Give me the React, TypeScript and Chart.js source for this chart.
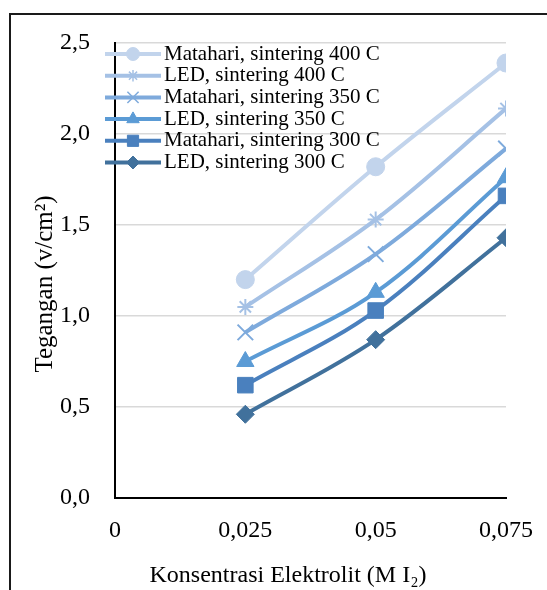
import React, { useEffect, useRef } from 'react';
import { Chart, registerables } from 'chart.js';
import { drawPoint } from 'chart.js/helpers';

Chart.register(...registerables);

const xValues = [0.025, 0.05, 0.075];
const xTickValues = [0, 0.025, 0.05, 0.075];
const xTickLabels = ['0', '0,025', '0,05', '0,075'];
const yTickValues = [0, 0.5, 1, 1.5, 2, 2.5];
const yTickLabels = ['0,0', '0,5', '1,0', '1,5', '2,0', '2,5'];

const seriesNames = [
  'Matahari, sintering 400 C',
  'LED, sintering 400 C',
  'Matahari, sintering 350 C',
  'LED, sintering 350 C',
  'Matahari, sintering 300 C',
  'LED, sintering 300 C',
];
const matahari400 = [1.2, 1.82, 2.39];
const led400 = [1.05, 1.53, 2.14];
const matahari350 = [0.91, 1.34, 1.92];
const led350 = [0.75, 1.13, 1.76];
const matahari300 = [0.62, 1.03, 1.66];
const led300 = [0.46, 0.87, 1.43];

const seriesValues = [matahari400, led400, matahari350, led350, matahari300, led300];
const seriesColors = ['#C2D4EC', '#A5C1E5', '#7EAADC', '#5B9BD5', '#4A80BE', '#41719C'];
const seriesMarkers = ['circle', 'star', 'crossRot', 'triangle', 'rect', 'rectRot'];
const markerRadius = [9, 8, 11, 10, 11, 9];

const xTitle = 'Konsentrasi Elektrolit (M I\u2082)';
const yTitle = 'Tegangan (v/cm\u00B2)';

const FONT = '"Liberation Serif", "Times New Roman", serif';

const framePlugin = {
  id: 'frame',
  beforeDraw(chart: any) {
    const ctx = chart.ctx;
    ctx.save();
    ctx.fillStyle = '#ffffff';
    ctx.fillRect(0, 0, chart.width, chart.height);
    ctx.strokeStyle = '#1a1a1a';
    ctx.lineWidth = 2;
    ctx.strokeRect(10, 14, chart.width + 20, chart.height + 20);
    ctx.restore();
  },
};

const titlesPlugin = {
  id: 'titles',
  afterDraw(chart: any) {
    const ctx = chart.ctx;
    ctx.save();
    ctx.fillStyle = '#000';
    ctx.font = `24px ${FONT}`;
    ctx.textAlign = 'center';
    ctx.textBaseline = 'middle';
    ctx.fillText(xTitle, 288, 576);
    ctx.font = `25px ${FONT}`;
    ctx.translate(45, 284);
    ctx.rotate(-Math.PI / 2);
    ctx.fillText(yTitle, 0, 0);
    ctx.restore();
  },
};

const legendPlugin = {
  id: 'customLegend',
  afterDraw(chart: any) {
    const ctx = chart.ctx;
    ctx.save();
    const x0 = 105;
    const x1 = 161;
    const y0 = 54;
    const dy = 21.7;
    seriesNames.forEach((name, i) => {
      const y = y0 + i * dy;
      ctx.strokeStyle = seriesColors[i];
      ctx.lineWidth = 4;
      ctx.lineCap = 'butt';
      ctx.beginPath();
      ctx.moveTo(x0, y);
      ctx.lineTo(x1, y);
      ctx.stroke();
      const isLine = seriesMarkers[i] === 'star' || seriesMarkers[i] === 'crossRot';
      ctx.fillStyle = seriesColors[i];
      ctx.strokeStyle = seriesColors[i];
      ctx.lineWidth = isLine ? 1.5 : 1;
      drawPoint(ctx, { pointStyle: seriesMarkers[i], radius: markerRadius[i] * 0.72, rotation: 0, borderWidth: ctx.lineWidth }, (x0 + x1) / 2, y);
      ctx.fillStyle = '#000';
      ctx.font = `21px ${FONT}`;
      ctx.textAlign = 'left';
      ctx.textBaseline = 'middle';
      ctx.fillText(name, 164, y);
    });
    ctx.restore();
  },
};

export default function App() {
  const ref = useRef<HTMLCanvasElement>(null);
  useEffect(() => {
    if (!ref.current) return;
    const datasets = seriesNames.map((name, i) => {
      const isLine = seriesMarkers[i] === 'star' || seriesMarkers[i] === 'crossRot';
      return {
        label: name,
        data: xValues.map((x, j) => ({ x, y: seriesValues[i][j] })),
        borderColor: seriesColors[i],
        backgroundColor: seriesColors[i],
        pointBackgroundColor: seriesColors[i],
        pointBorderColor: seriesColors[i],
        pointStyle: seriesMarkers[i],
        pointRadius: markerRadius[i],
        pointBorderWidth: isLine ? 2 : 1,
        borderWidth: 4,
        tension: 0.35,
        fill: false,
      };
    });
    const chart = new Chart(ref.current, {
      type: 'line',
      data: { datasets },
      plugins: [framePlugin, titlesPlugin, legendPlugin],
      options: {
        responsive: false,
        animation: false,
        layout: { padding: { left: 0, right: 41, top: 43, bottom: 0 } },
        plugins: { legend: { display: false }, tooltip: { enabled: false } },
        scales: {
          x: {
            type: 'linear',
            min: 0,
            max: 0.075,
            afterBuildTicks: (s: any) => {
              s.ticks = xTickValues.map((v) => ({ value: v }));
            },
            afterFit: (s: any) => {
              s.height = 92;
            },
            ticks: {
              callback: (_v: any, idx: number) => xTickLabels[idx],
              font: { family: FONT, size: 24 },
              color: '#000',
              padding: 10,
              maxRotation: 0,
              autoSkip: false,
            },
            grid: { display: false },
            border: { display: true, color: '#000', width: 2 },
          },
          y: {
            min: 0,
            max: 2.5,
            afterBuildTicks: (s: any) => {
              s.ticks = yTickValues.map((v) => ({ value: v }));
            },
            afterFit: (s: any) => {
              s.width = 115;
            },
            ticks: {
              callback: (_v: any, idx: number) => yTickLabels[idx],
              font: { family: FONT, size: 24 },
              color: '#000',
              padding: 25,
              autoSkip: false,
            },
            grid: { display: true, color: '#d9d9d9', lineWidth: 1.5, drawTicks: false },
            border: { display: true, color: '#000', width: 2 },
          },
        },
      },
    } as any);
    return () => chart.destroy();
  }, []);
  return (
    <div style={{ position: 'fixed', left: 0, top: 0, width: 547, height: 590 }}>
      <canvas ref={ref} width={547} height={590} style={{ width: 547, height: 590 }} />
    </div>
  );
}
